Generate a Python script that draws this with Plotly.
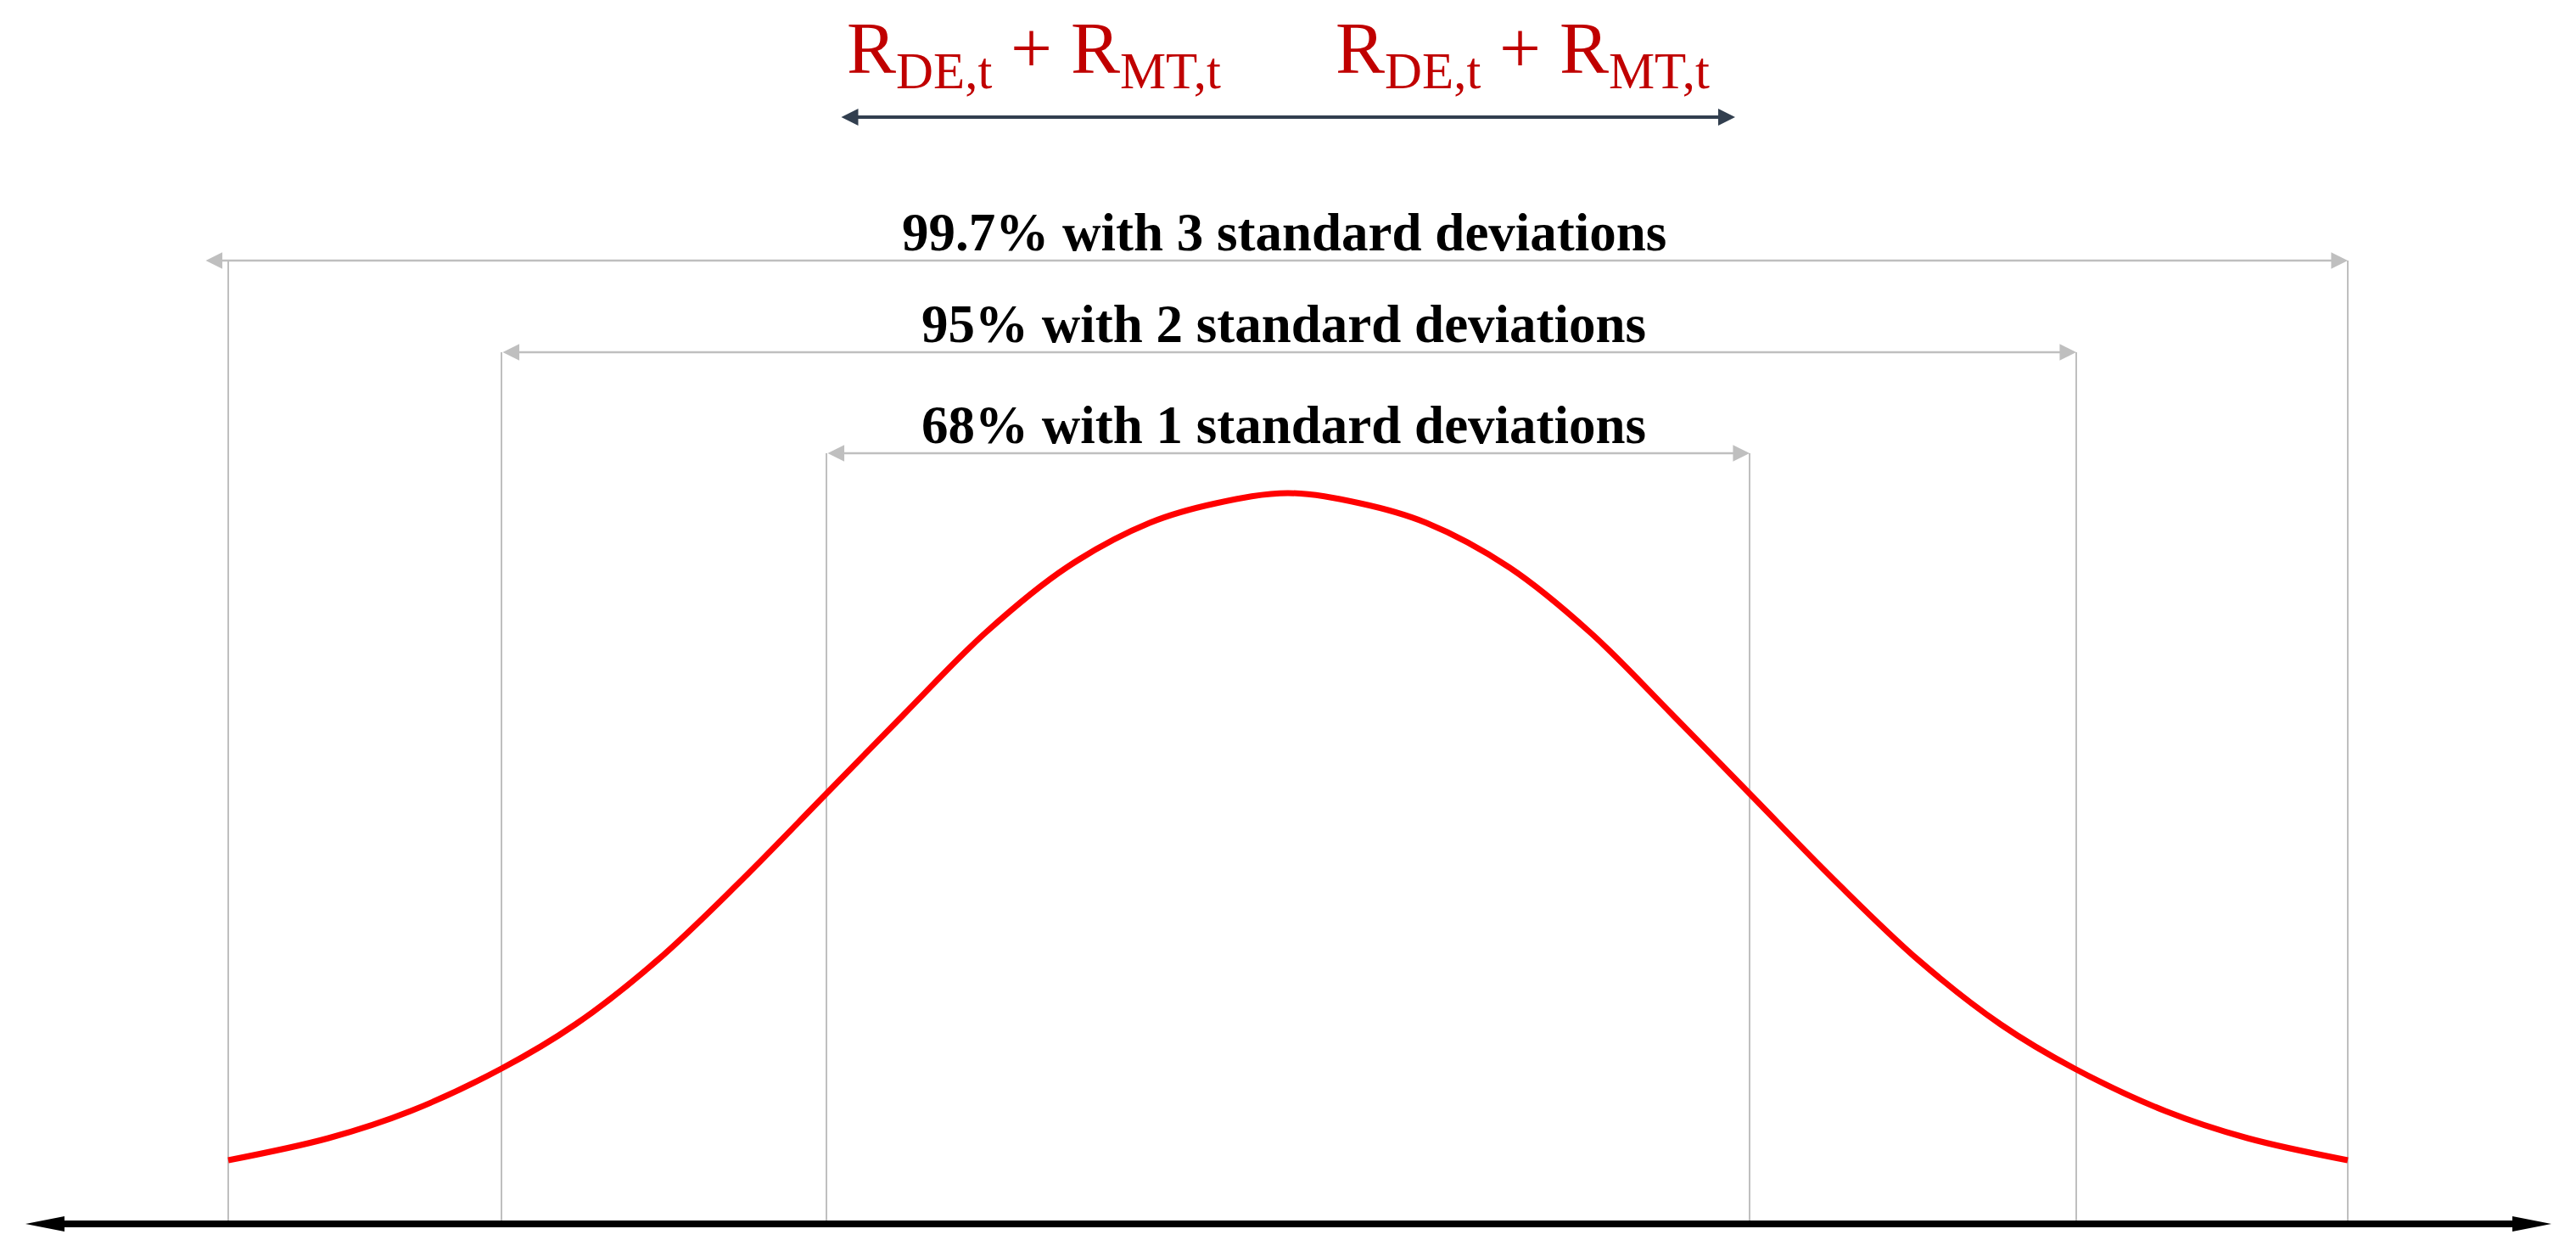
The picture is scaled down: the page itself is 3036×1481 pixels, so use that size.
import plotly.graph_objects as go

# Bell curve: horizontal position (0 = centre) vs height above the axis
curve_x = [-1249, -1131, -1034, -927, -840, -744, -647, -544, -453, -356, -260, -163, -85, 0,
           85, 163, 260, 356, 453, 544, 647, 744, 840, 927, 1034, 1131, 1249]
curve_y = [75, 101, 133, 183, 235, 310, 402, 507, 600, 697, 774, 826, 849, 861,
           849, 826, 774, 697, 600, 507, 402, 310, 235, 183, 133, 101, 75]

# Standard deviation brackets (1, 2, 3 sigma)
band_labels = [
    "68% with 1 standard deviations",
    "95% with 2 standard deviations",
    "99.7% with 3 standard deviations",
]
band_left = [-544, -927, -1249]
band_right = [544, 929, 1249]
band_height = [908, 1027, 1135]
band_arrow_left = [-544, -927, -1277]

# Formula above the chart
formula_text = ["R<sub>DE,t</sub> + R<sub>MT,t</sub>", "R<sub>DE,t</sub> + R<sub>MT,t</sub>"]
formula_x = [-300, 276]
formula_y = 1323
formula_arrow = [-528, 527, 1304]

# Horizontal axis arrow
axis_ends = [-1488, 1489]

GRAY = "#bfbfbf"
SERIF = "Times New Roman, Liberation Serif, serif"

fig = go.Figure()
fig.add_trace(
    go.Scatter(
        x=curve_x,
        y=curve_y,
        mode="lines",
        line={"color": "#ff0000", "width": 7, "shape": "spline", "smoothing": 1},
        hoverinfo="skip",
    )
)

shapes = []
annotations = []
for lab, xl, xr, yh, xa in zip(band_labels, band_left, band_right, band_height, band_arrow_left):
    for xv in (xl, xr):
        shapes.append(
            {"type": "line", "x0": xv, "x1": xv, "y0": 0, "y1": yh,
             "line": {"color": GRAY, "width": 2}, "layer": "below"}
        )
    annotations.append(
        {"x": xr, "y": yh, "ax": xa, "ay": yh, "xref": "x", "yref": "y",
         "axref": "x", "ayref": "y", "text": "", "showarrow": True,
         "arrowside": "end+start", "arrowhead": 2, "startarrowhead": 2,
         "arrowsize": 1.7, "startarrowsize": 1.7, "arrowwidth": 2.3, "arrowcolor": GRAY}
    )
    annotations.append(
        {"x": -5, "y": yh - 4, "xref": "x", "yref": "y", "text": lab,
         "showarrow": False, "xanchor": "center", "yanchor": "bottom",
         "font": {"family": SERIF, "size": 63, "color": "#000000", "weight": "bold"}}
    )

# formula + its double arrow
for txt, xv in zip(formula_text, formula_x):
    annotations.append(
        {"x": xv, "y": formula_y, "xref": "x", "yref": "y", "text": txt,
         "showarrow": False, "xanchor": "center", "yanchor": "bottom",
         "font": {"family": SERIF, "size": 87, "color": "#c00000"}}
    )
annotations.append(
    {"x": formula_arrow[1], "y": formula_arrow[2], "ax": formula_arrow[0], "ay": formula_arrow[2],
     "xref": "x", "yref": "y", "axref": "x", "ayref": "y", "text": "", "showarrow": True,
     "arrowside": "end+start", "arrowhead": 2, "startarrowhead": 2,
     "arrowsize": 1.0, "startarrowsize": 1.0, "arrowwidth": 4, "arrowcolor": "#323f4f"}
)

# thick black axis with long narrow heads
head_len, head_half = 46, 9
shapes.append(
    {"type": "line", "x0": axis_ends[0] + head_len - 2, "x1": axis_ends[1] - head_len + 2,
     "y0": 0, "y1": 0, "line": {"color": "#000000", "width": 8}}
)
shapes.append(
    {"type": "path", "fillcolor": "#000000", "line": {"width": 0},
     "path": f"M {axis_ends[0]},0 L {axis_ends[0] + head_len},{head_half} "
             f"L {axis_ends[0] + head_len},{-head_half} Z"}
)
shapes.append(
    {"type": "path", "fillcolor": "#000000", "line": {"width": 0},
     "path": f"M {axis_ends[1]},0 L {axis_ends[1] - head_len},{head_half} "
             f"L {axis_ends[1] - head_len},{-head_half} Z"}
)

fig.update_layout(
    width=3036,
    height=1481,
    margin={"l": 0, "r": 0, "t": 0, "b": 0},
    paper_bgcolor="white",
    plot_bgcolor="white",
    showlegend=False,
    shapes=shapes,
    annotations=annotations,
    xaxis={"range": [-1518, 1518], "visible": False, "fixedrange": True},
    yaxis={"range": [-39, 1442], "visible": False, "fixedrange": True},
)

fig.write_html(
    "out.html",
    config={"displayModeBar": False},
    post_script="document.body.style.margin='0';document.body.style.overflow='hidden';",
)
